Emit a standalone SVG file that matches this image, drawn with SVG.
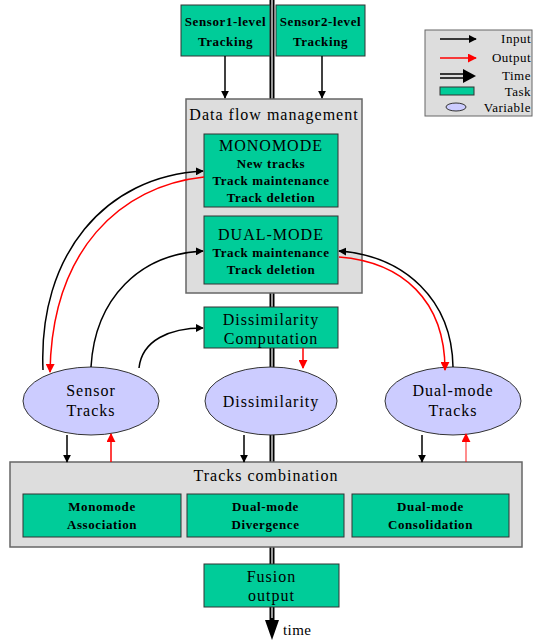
<svg xmlns="http://www.w3.org/2000/svg" width="534" height="643" viewBox="0 0 534 643" font-family="'Liberation Serif', 'Times New Roman', serif">
<defs>
<marker id="ab" viewBox="0 0 10 10" refX="9" refY="5" markerWidth="8" markerHeight="8" markerUnits="userSpaceOnUse" orient="auto"><path d="M0,0 L10,5 L0,10 z" fill="#000"/></marker>
<marker id="ar" viewBox="0 0 10 10" refX="9" refY="5" markerWidth="9" markerHeight="9" markerUnits="userSpaceOnUse" orient="auto"><path d="M0,0 L10,5 L0,10 z" fill="#f00"/></marker>
<style>
text{font-family:'Liberation Serif','Times New Roman',serif;fill:#000;text-anchor:middle}
.t15{font-size:16px;letter-spacing:1px}
.b12{font-size:13px;font-weight:bold;letter-spacing:0.6px}
.task{fill:#00cc99;stroke:#333;stroke-width:1}
.grp{fill:#dddddd;stroke:#666;stroke-width:1.5}
.var{fill:#ccccff;stroke:#333;stroke-width:1}
.blk{fill:none;stroke:#000;stroke-width:1.5;marker-end:url(#ab)}
.red{fill:none;stroke:#f00;stroke-width:1.5;marker-end:url(#ar)}
.lg{font-size:13px;letter-spacing:0.5px;text-anchor:end}
</style>
</defs>
<rect width="534" height="643" fill="#fff"/>
<g id="timeline">
<line x1="272" y1="0" x2="272" y2="622" stroke="#000" stroke-width="5"/>
<line x1="272" y1="0" x2="272" y2="618" stroke="#999" stroke-width="2"/>
<path d="M265,620 L279,620 L272,640 z" fill="#000"/>
<text x="283" y="635" style="font-size:15px;letter-spacing:0.4px;text-anchor:start">time</text>
</g>
<g id="sensor1"><rect class="task" x="181" y="5" width="89" height="51"/><text class="b12" x="225.5" y="26">Sensor1-level</text><text class="b12" x="225.5" y="46">Tracking</text></g>
<g id="sensor2"><rect class="task" x="276" y="5" width="89" height="51"/><text class="b12" x="320.5" y="26">Sensor2-level</text><text class="b12" x="320.5" y="46">Tracking</text></g>
<g id="dataflow"><rect class="grp" x="186" y="99" width="176" height="194"/><text class="t15" x="274" y="120">Data flow management</text></g>
<g id="monomode"><rect class="task" x="204" y="134" width="134" height="73"/><text class="t15" x="271" y="151">MONOMODE</text><text class="b12" x="271" y="168">New tracks</text><text class="b12" x="271" y="185">Track maintenance</text><text class="b12" x="271" y="202">Track deletion</text></g>
<g id="dualmode"><rect class="task" x="204" y="216" width="134" height="68"/><text class="t15" x="271" y="240">DUAL-MODE</text><text class="b12" x="271" y="257">Track maintenance</text><text class="b12" x="271" y="274">Track deletion</text></g>
<g id="dissimcomp"><rect class="task" x="204" y="307" width="134" height="41"/><text class="t15" x="271" y="325">Dissimilarity</text><text class="t15" x="271" y="344">Computation</text></g>
<g id="sensortracks"><ellipse class="var" cx="91" cy="401" rx="68" ry="34"/><text class="t15" x="91" y="396">Sensor</text><text class="t15" x="91" y="416">Tracks</text></g>
<g id="dissimilarity"><ellipse class="var" cx="271" cy="401" rx="66" ry="34"/><text class="t15" x="271" y="407">Dissimilarity</text></g>
<g id="dualtracks"><ellipse class="var" cx="453" cy="401" rx="68" ry="34"/><text class="t15" x="453" y="396">Dual-mode</text><text class="t15" x="453" y="416">Tracks</text></g>
<g id="combination"><rect class="grp" x="10" y="462" width="512" height="85"/><text class="t15" x="266" y="481">Tracks combination</text></g>
<g id="monoassoc"><rect class="task" x="23" y="494" width="158" height="43"/><text class="b12" x="102" y="511">Monomode</text><text class="b12" x="102" y="529">Association</text></g>
<g id="divergence"><rect class="task" x="187" y="494" width="157" height="43"/><text class="b12" x="265.5" y="511">Dual-mode</text><text class="b12" x="265.5" y="529">Divergence</text></g>
<g id="consolidation"><rect class="task" x="352" y="494" width="157" height="43"/><text class="b12" x="430.5" y="511">Dual-mode</text><text class="b12" x="430.5" y="529">Consolidation</text></g>
<g id="fusion"><rect class="task" x="204" y="564" width="135" height="43"/><text class="t15" x="271.5" y="582">Fusion</text><text class="t15" x="271.5" y="601">output</text></g>
<g id="connectors">
<line class="blk" x1="225" y1="56" x2="225" y2="98"/>
<line class="blk" x1="322" y1="56" x2="322" y2="98"/>
<path class="blk" d="M43,370 C38,255 105,176 203,171"/>
<path class="red" d="M204,177 C120,186 52,250 50,372"/>
<path class="blk" d="M91,367 C95,298 140,254 203,251"/>
<path class="blk" d="M139,368 C142,340 170,328 203,328"/>
<path class="blk" d="M453,367 C452,300 405,256 339,251"/>
<path class="red" d="M339,257 C402,262 445,300 445,370"/>
<line class="red" x1="303" y1="348" x2="303" y2="368"/>
<line class="blk" x1="67" y1="435" x2="67" y2="462"/>
<line class="red" x1="111" y1="462" x2="111" y2="434"/>
<line class="blk" x1="244" y1="435" x2="244" y2="462"/>
<line class="blk" x1="422" y1="435" x2="422" y2="462"/>
<line class="red" x1="466" y1="462" x2="466" y2="434" stroke-opacity="0.6"/>
</g>
<g id="legend">
<rect x="425" y="30" width="107" height="86" fill="#dddddd" stroke="#666" stroke-width="1"/>
<line class="blk" x1="440" y1="39" x2="476" y2="39"/>
<text class="lg" x="531" y="43">Input</text>
<line class="red" x1="440" y1="58" x2="476" y2="58"/>
<text class="lg" x="531" y="62">Output</text>
<line x1="440" y1="74" x2="466" y2="74" stroke="#000" stroke-width="1.5"/>
<line x1="440" y1="78" x2="466" y2="78" stroke="#000" stroke-width="1.5"/>
<path d="M463,69 L476,76 L463,83 z" fill="#000"/>
<text class="lg" x="531" y="80">Time</text>
<rect class="task" x="440" y="87" width="34" height="8"/>
<text class="lg" x="531" y="96">Task</text>
<ellipse class="var" cx="456" cy="107" rx="10" ry="4"/>
<text class="lg" x="531" y="112">Variable</text>
</g>
</svg>
